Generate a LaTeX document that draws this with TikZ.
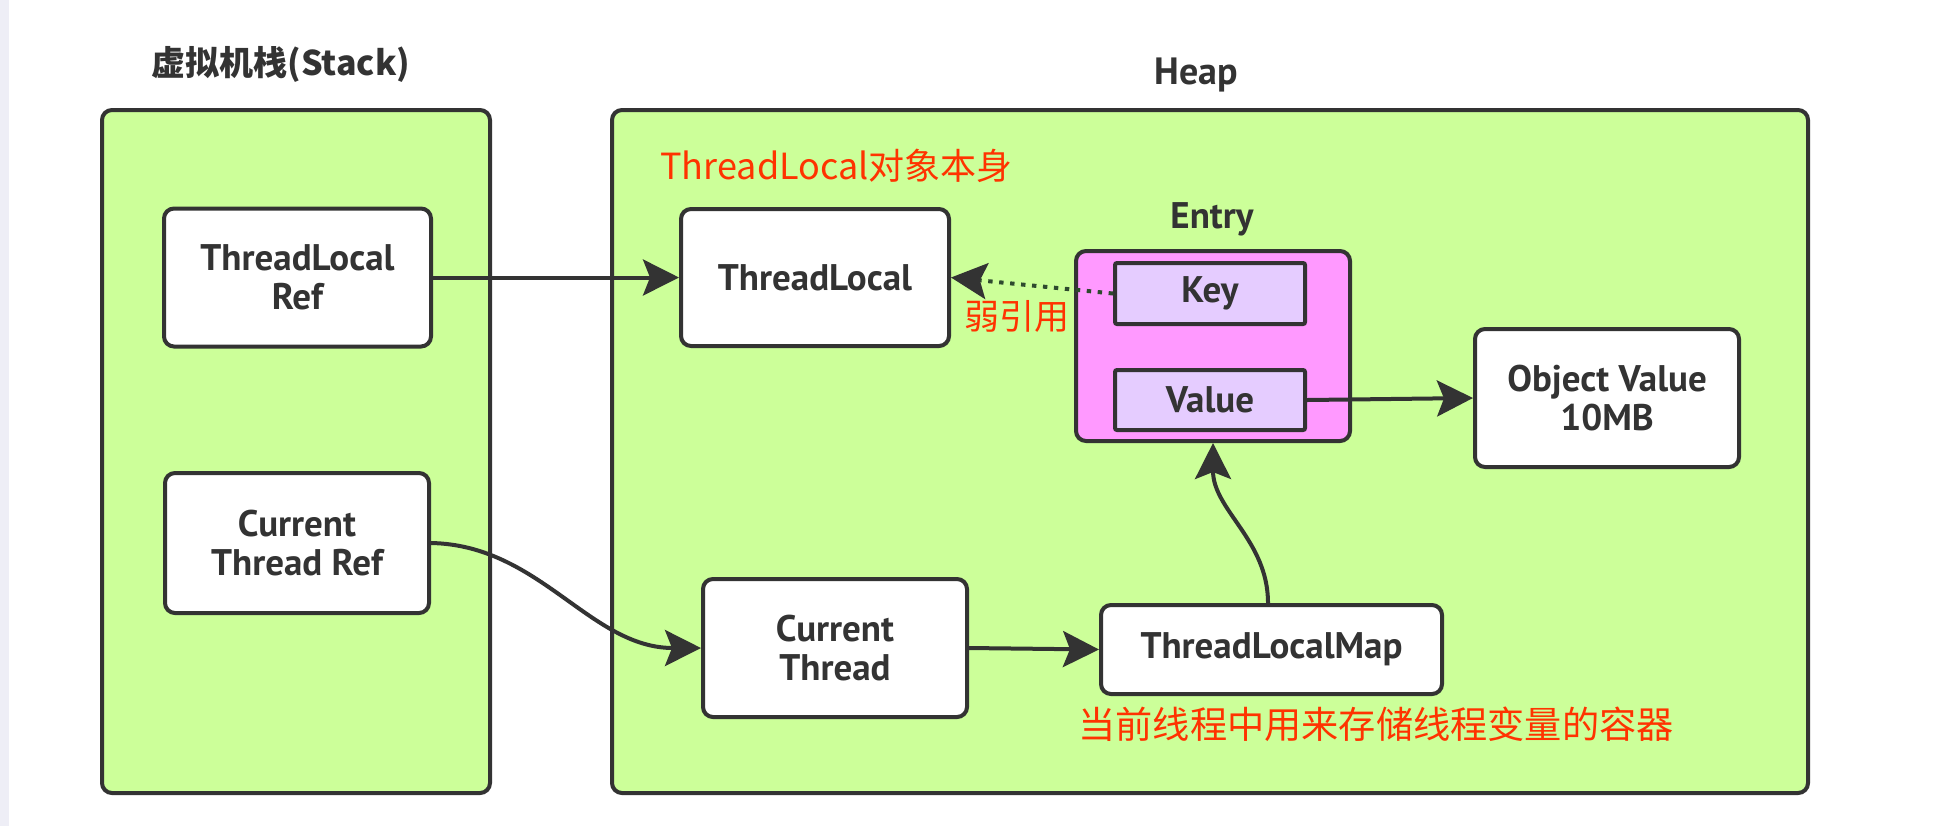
\documentclass[tikz,border=0pt]{standalone}
\usepackage{fontspec}
\setmainfont{PT Sans}
\newfontfamily\cjk{Noto Sans CJK SC}
\usetikzlibrary{arrows.meta}
\definecolor{gfill}{HTML}{CCFF99}
\definecolor{mfill}{HTML}{FF99FF}
\definecolor{lfill}{HTML}{E5CCFF}
\definecolor{bord}{HTML}{333333}
\definecolor{redtxt}{HTML}{FF3300}
\definecolor{stripc}{HTML}{EEEEF6}
\definecolor{dotc}{HTML}{2E4A2E}
\begin{document}
\begin{tikzpicture}[x=0.5pt,y=-0.5pt,
  container/.style={draw=bord, line width=2pt, fill=gfill, rounded corners=5pt, inner sep=0pt},
  box/.style={draw=bord, line width=2pt, fill=white, rounded corners=5pt, align=center,
    font=\fontsize{18.5}{19.5}\selectfont\bfseries, text=bord, inner sep=0pt},
  entrybox/.style={draw=bord, line width=2pt, fill=mfill, rounded corners=5pt, inner sep=0pt},
  fieldbox/.style={draw=bord, line width=2pt, fill=lfill, rounded corners=1pt, align=center,
    font=\fontsize{18.5}{19.5}\selectfont\bfseries, text=bord, inner sep=0pt},
  title/.style={font=\fontsize{19}{22}\selectfont\bfseries, text=bord, inner sep=0pt},
  note/.style={text=redtxt, inner sep=0pt},
  conn/.style={draw=bord, line width=2pt, -{Stealth[length=18pt,width=18pt,inset=3.5pt]}},
  weakconn/.style={draw=dotc, line width=2pt, dash pattern=on 2.2pt off 3.3pt, -{Stealth[length=18pt,width=18pt,inset=3.5pt,color=bord]}}
]
\useasboundingbox (0,0) rectangle (1952,826);
\fill[white] (0,0) rectangle (1952,826);
\fill[stripc] (0,0) rectangle (9,826);

% containers
\node[container, minimum width=194pt, minimum height=341.5pt] (stack) at (296,451.5) {};
\node[container, minimum width=598pt, minimum height=341.5pt] (heap) at (1210,451.5) {};

\node[title, font=\cjk\fontsize{17}{20}\selectfont\bfseries] (stacktitle) at (281,64) {虚拟机栈(Stack)};
\node[title] (heaptitle) at (1196,75) {Heap};

% stack nodes
\node[box, minimum width=133.5pt, minimum height=69pt] (tlref) at (297.5,277.5) {ThreadLocal\\Ref};
\node[box, minimum width=132pt, minimum height=70pt] (ctref) at (297,543) {Current\\Thread Ref};

% heap nodes
\node[note, anchor=west, font=\cjk\fontsize{18}{20}\selectfont] (tlnote) at (660,166) {ThreadLocal对象本身};
\node[box, minimum width=134pt, minimum height=68.5pt] (tl) at (815,277.5) {ThreadLocal};

\node[title, font=\fontsize{18.5}{20}\selectfont\bfseries] (entrylabel) at (1212,219) {Entry};
\node[entrybox, minimum width=137pt, minimum height=95pt] (entry) at (1213,346) {};
\node[fieldbox, minimum width=95pt, minimum height=30.5pt] (key) at (1210,293.5) {Key};
\node[fieldbox, minimum width=95pt, minimum height=30pt] (value) at (1210,400) {Value};

\node[note, font=\cjk\fontsize{17.5}{20}\selectfont] (weak) at (1017,316) {弱引用};

\node[box, minimum width=132pt, minimum height=69pt] (obj) at (1607,398) {Object Value\\10MB};
\node[box, minimum width=132pt, minimum height=69pt] (ct) at (835,648) {Current\\Thread};
\node[box, minimum width=170.5pt, minimum height=44.5pt] (tlmap) at (1271.5,649.5) {ThreadLocalMap};

\node[note, font=\cjk\fontsize{18.6}{22}\selectfont] (mapnote) at (1376,724) {当前线程中用来存储线程变量的容器};

% connectors
\draw[conn] (tlref.east) -- (tl.west);
\draw[weakconn] (key.west) -- (tl.east);
\draw[conn] (value.east) -- (obj.west);
\draw[conn] (ctref.east) .. controls (540,545) and (590,648) .. (ct.west);
\draw[conn] (ct.east) -- (tlmap.west);
\draw[conn] ([xshift=-1.75pt]tlmap.north) .. controls (1268,540) and (1213,510) .. (entry.south);
\end{tikzpicture}
\end{document}
